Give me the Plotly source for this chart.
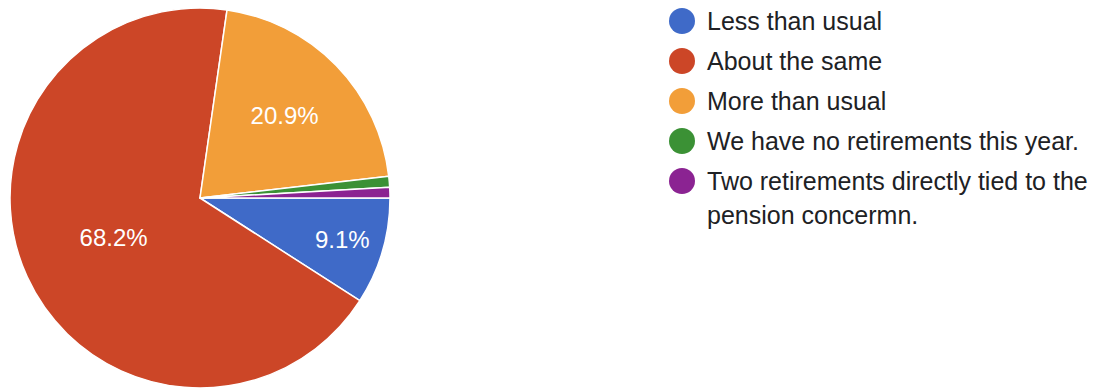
import plotly.graph_objects as go

categories = [
    "Less than usual",
    "About the same",
    "More than usual",
    "We have no retirements this year.",
    "Two retirements directly tied to the pension concermn.",
]
counts = [10, 75, 23, 1, 1]
colors = ["#3f6ac8", "#cc4627", "#f29e39", "#3b9135", "#8b2392"]
legend_lines = [
    ["Less than usual"],
    ["About the same"],
    ["More than usual"],
    ["We have no retirements this year."],
    ["Two retirements directly tied to the", "pension concermn."],
]
W, H = 1109, 388
FONT = "Liberation Sans, Arial, sans-serif"

total = sum(counts)
templates = ["%{percent:.1%}" if c / total > 0.05 else "" for c in counts]

fig = go.Figure()
fig.add_trace(go.Pie(
    labels=categories,
    values=counts,
    sort=False,
    direction="clockwise",
    rotation=90,
    marker=dict(colors=colors, line=dict(color="white", width=1.5)),
    texttemplate=templates,
    textposition="inside",
    insidetextorientation="horizontal",
    textfont=dict(family=FONT, size=24, color="white"),
    domain=dict(x=[10 / W, 390 / W], y=[0, 380 / H]),
    showlegend=False,
    hoverinfo="label+percent",
))

# custom legend with circular swatches
y0 = 21
step = 40
for i, (lines, col) in enumerate(zip(legend_lines, colors)):
    yc = y0 + i * step
    fig.add_shape(type="circle", xref="paper", yref="paper",
                  x0=(682 - 13) / W, x1=(682 + 13) / W,
                  y0=1 - (yc + 13) / H, y1=1 - (yc - 13) / H,
                  fillcolor=col, line=dict(width=0))
    for j, ln in enumerate(lines):
        fig.add_annotation(text=ln, xref="paper", yref="paper",
                           x=705 / W, y=1 - (yc + j * 34) / H,
                           xanchor="left", yanchor="middle", showarrow=False,
                           font=dict(family=FONT, size=25, color="#202124"))

fig.update_layout(
    width=W, height=H,
    margin=dict(l=0, r=0, t=0, b=0),
    paper_bgcolor="white", plot_bgcolor="white",
)
fig.write_html("out.html",
               config={"displayModeBar": False},
               post_script="document.body.style.margin='0';document.body.style.overflow='hidden';")
